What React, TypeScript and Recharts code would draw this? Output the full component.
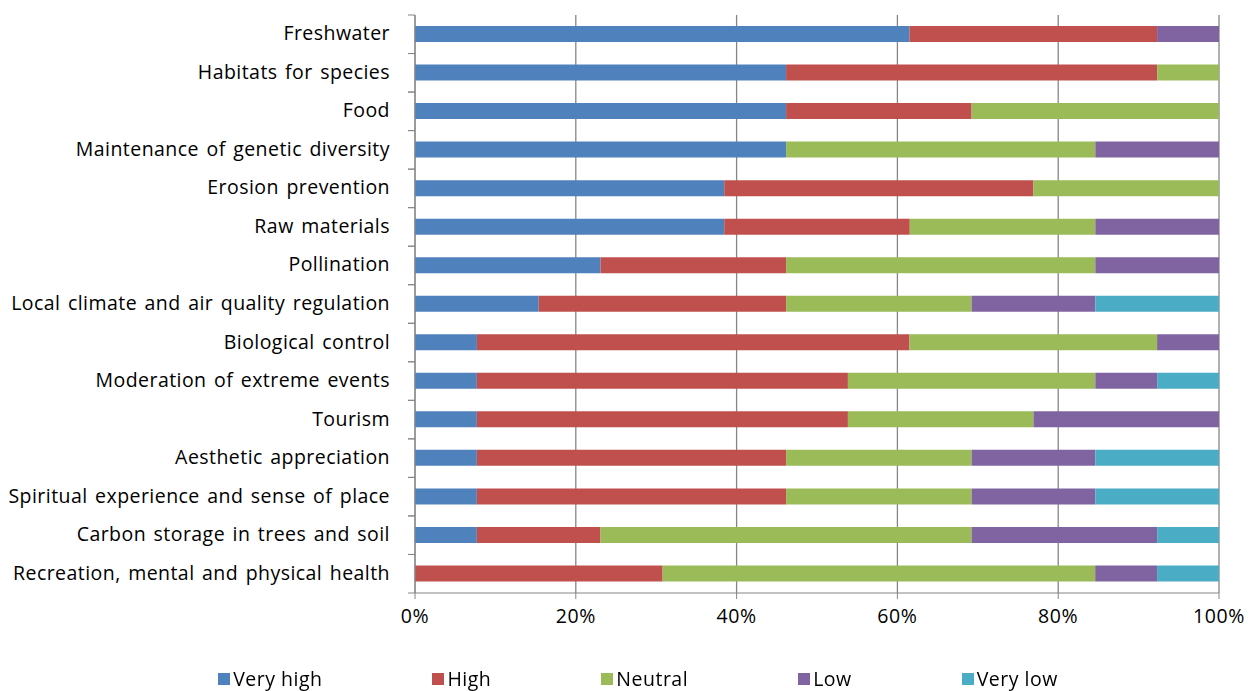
import React from 'react';
import { BarChart, Bar, XAxis, YAxis, CartesianGrid } from 'recharts';

// Share of respondents (%) rating each ecosystem service
const services = [
  'Freshwater',
  'Habitats for species',
  'Food',
  'Maintenance of genetic diversity',
  'Erosion prevention',
  'Raw materials',
  'Pollination',
  'Local climate and air quality regulation',
  'Biological control',
  'Moderation of extreme events',
  'Tourism',
  'Aesthetic appreciation',
  'Spiritual experience and sense of place',
  'Carbon storage in trees and soil',
  'Recreation, mental and physical health',
];

const veryHigh = [61.5, 46.2, 46.2, 46.2, 38.5, 38.5, 23.1, 15.4, 7.7, 7.7, 7.7, 7.7, 7.7, 7.7, 0];
const high = [30.8, 46.2, 23.1, 0, 38.5, 23.1, 23.1, 30.8, 53.8, 46.2, 46.2, 38.5, 38.5, 15.4, 30.8];
const neutral = [0, 7.7, 30.8, 38.5, 23.1, 23.1, 38.5, 23.1, 30.8, 30.8, 23.1, 23.1, 23.1, 46.2, 53.8];
const low = [7.7, 0, 0, 15.4, 0, 15.4, 15.4, 15.4, 7.7, 7.7, 23.1, 15.4, 15.4, 23.1, 7.7];
const veryLow = [0, 0, 0, 0, 0, 0, 0, 15.4, 0, 7.7, 0, 15.4, 15.4, 7.7, 7.7];

const xTicks = [0, 0.2, 0.4, 0.6, 0.8, 1];

const SERIES = [
  { key: 'Very high', values: veryHigh, color: '#4F81BD' },
  { key: 'High', values: high, color: '#C0504D' },
  { key: 'Neutral', values: neutral, color: '#9BBB59' },
  { key: 'Low', values: low, color: '#8064A2' },
  { key: 'Very low', values: veryLow, color: '#4BACC6' },
];

const FONT = '"Open Sans", "Liberation Sans", sans-serif';
const FONT_SIZE = 19.5;
const AXIS = '#868686';

const data = services.map((name, i) => {
  const row: Record<string, string | number> = { name };
  SERIES.forEach(s => { row[s.key] = s.values[i]; });
  return row;
});

const CHART_W = 1248;
const CHART_H = 691;
const TOP = 15;
const BOTTOM = 98;
const BAND = (CHART_H - TOP - BOTTOM) / services.length;

// category label plus the small tick marks at band boundaries
function ServiceTick(props: any) {
  const { x, y, payload } = props;
  const axisX = x + 25;
  return (
    <g>
      <line x1={axisX - 7} x2={axisX} y1={y - BAND / 2} y2={y - BAND / 2} stroke={AXIS} />
      <line x1={axisX - 7} x2={axisX} y1={y + BAND / 2} y2={y + BAND / 2} stroke={AXIS} />
      <text
        x={x}
        y={y}
        dy={6}
        textAnchor="end"
        fill="#000"
        fontSize={FONT_SIZE}
        fontFamily={FONT}
        letterSpacing={0.45}
        wordSpacing={2}
      >
        {payload.value}
      </text>
    </g>
  );
}

export default function App() {
  return (
    <div style={{ position: 'fixed', left: 0, top: 0, width: CHART_W, height: CHART_H, background: '#fff' }}>
      <BarChart
        width={CHART_W}
        height={CHART_H}
        data={data}
        layout="vertical"
        stackOffset="expand"
        margin={{ top: TOP, right: 29, left: 0, bottom: BOTTOM - 45 }}
      >
        <CartesianGrid horizontal={false} stroke={AXIS} strokeWidth={1.3} />
        <XAxis
          type="number"
          domain={[0, 1]}
          ticks={xTicks}
          tickFormatter={(v: number) => `${Math.round(v * 100)}%`}
          stroke={AXIS}
          tickSize={6}
          tickMargin={10}
          height={45}
          tick={{ fill: '#000', fontSize: FONT_SIZE, fontFamily: FONT, letterSpacing: 0.6 }}
        />
        <YAxis
          type="category"
          dataKey="name"
          width={415}
          stroke={AXIS}
          tickLine={false}
          tickSize={0}
          tickMargin={25}
          interval={0}
          tick={<ServiceTick />}
        />
        {SERIES.map(s => (
          <Bar key={s.key} dataKey={s.key} stackId="a" fill={s.color} barSize={16} isAnimationActive={false} />
        ))}
      </BarChart>
      <div
        style={{
          position: 'absolute',
          top: 667,
          left: 0,
          width: 1276,
          display: 'flex',
          justifyContent: 'center',
          gap: 110,
          fontFamily: FONT,
          fontSize: FONT_SIZE,
          letterSpacing: 0.5,
          color: '#000',
        }}
      >
        {SERIES.map(s => (
          <div key={s.key} style={{ display: 'flex', alignItems: 'center', lineHeight: '24px' }}>
            <span style={{ width: 12, height: 12, background: s.color, marginRight: 3, display: 'inline-block' }} />
            {s.key}
          </div>
        ))}
      </div>
    </div>
  );
}
